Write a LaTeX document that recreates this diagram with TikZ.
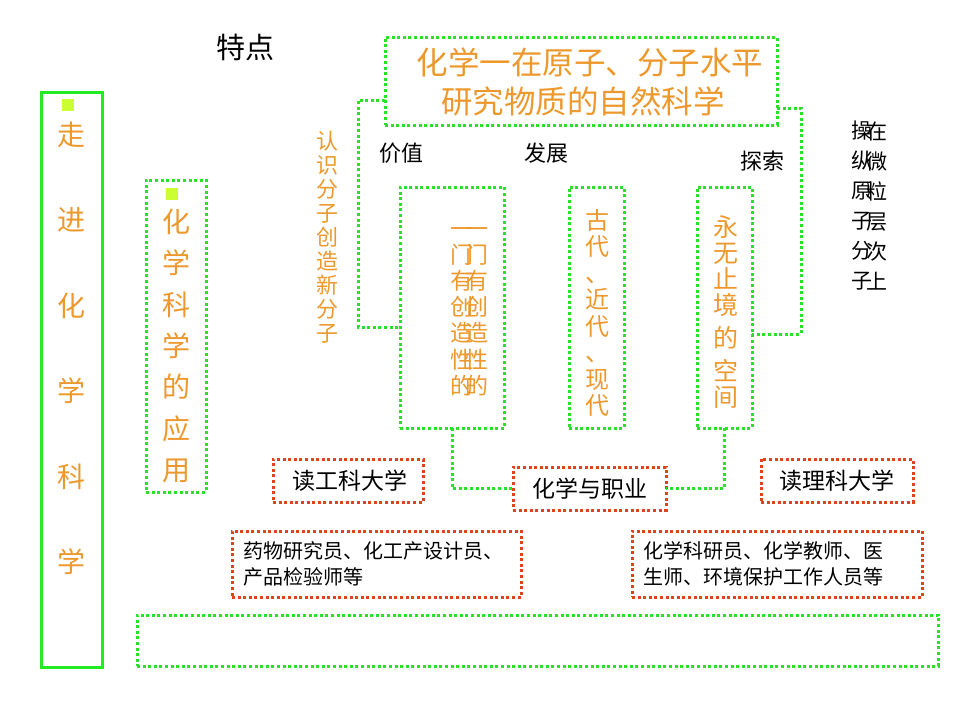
\documentclass[tikz,border=0pt]{standalone}
\usepackage{fontspec}
\newfontfamily\cjk{Noto Sans CJK SC}
\definecolor{dgreen}{RGB}{40,225,40}
\definecolor{sgreen}{RGB}{34,235,34}
\definecolor{dred}{RGB}{222,68,28}
\definecolor{otxt}{RGB}{236,152,44}
\definecolor{ysq}{RGB}{204,255,51}
\newcommand{\fs}[2]{\cjk\fontsize{#1}{#2}\selectfont}
\begin{document}
\begin{tikzpicture}[x=1pt,y=-1pt,
  gdot/.style={draw=dgreen,line width=3pt,dash pattern=on 3pt off 2.6pt,outer sep=0pt,inner sep=0pt},
  rdot/.style={draw=dred,line width=3pt,dash pattern=on 3pt off 2.6pt,outer sep=0pt,inner sep=0pt},
  gsolid/.style={draw=sgreen,line width=3pt,outer sep=0pt,inner sep=0pt},
  sqmark/.style={fill=ysq,minimum size=12pt,inner sep=0pt},
  otext/.style={text=otxt,inner sep=0pt,align=center},
  btext/.style={text=black,inner sep=0pt,align=center},
  gline/.style={draw=dgreen,line width=3pt,dash pattern=on 3pt off 2.6pt}]
\useasboundingbox (0,0) rectangle (960,720);
% left main box
\node[gsolid,minimum width=61pt,minimum height=575pt] (lb) at (71.5,379.5) {};
\node[sqmark] (sq1) at (68,105) {};
\node[otext,font=\fs{28}{85.5}] (zj) at (71,348.5) {走\\进\\化\\学\\科\\学};
% application box
\node[gdot,minimum width=60pt,minimum height=312pt] (app) at (176,336) {};
\node[sqmark] (sq2) at (172,194) {};
\node[otext,font=\fs{28}{41.3}] (appt) at (176,346) {化\\学\\科\\学\\的\\应\\用};
% title
\node[btext,font=\fs{29}{34}] (td) at (245,47) {特点};
% top box
\node[gdot,minimum width=392pt,minimum height=88pt] (top) at (581,81) {};
\node[otext,font=\fs{31.5}{36}] (t1) at (590,62) {化学一在原子、分子水平};
\node[otext,font=\fs{31.5}{36}] (t2) at (583,101) {研究物质的自然科学};
% labels
\node[btext,font=\fs{22}{26}] (jz) at (401,153) {价值};
\node[btext,font=\fs{22}{26}] (fz) at (546,153) {发展};
\node[btext,font=\fs{22}{26}] (ts) at (762,161) {探索};
\node[otext,font=\fs{22}{24}] (rs) at (327,237) {认\\识\\分\\子\\创\\造\\新\\分\\子};
\node[btext,font=\fs{21}{30}] (cz1) at (862,206) {操\\纵\\原\\子\\分\\子};
\node[btext,font=\fs{21}{30}] (cz2) at (877,206) {在\\微\\粒\\层\\次\\上};
% three vertical boxes
\node[gdot,minimum width=104pt,minimum height=241pt] (b1) at (452,307.5) {};
\node[gdot,minimum width=55pt,minimum height=241pt] (b2) at (596.5,307.5) {};
\node[gdot,minimum width=55pt,minimum height=241pt] (b3) at (724.5,307.5) {};
\node[otext,font=\fs{23}{26.2}] (b1a) at (461.5,311.5) {一\\门\\有\\创\\造\\性\\的};
\node[otext,font=\fs{23}{26.2}] (b1b) at (476.5,311.5) {一\\门\\有\\创\\造\\性\\的};
\node[otext,font=\fs{24}{26.5}] (b2t) at (597,312.75) {古\\代\\、\\近\\代\\、\\现\\代};
\node[otext,font=\fs{25}{26}] (b3t) at (726,312) {永\\无\\止\\境\\[7pt]的\\[7pt]空\\间};
% connectors to top box
\coordinate (c1) at (358,327);
\coordinate (c2) at (801,334);
\draw[gline] ([yshift=-19pt]top.west) -| (c1) -- (b1.west |- c1);
\draw[gline] ([yshift=-27pt]top.east) -| (c2) -- (b3.east |- c2);
% career boxes
\node[rdot,minimum width=153pt,minimum height=43pt] (job) at (589.5,488.5) {};
\node[btext,font=\fs{23}{26}] (jobt) at (589.5,489) {化学与职业};
\node[rdot,minimum width=150pt,minimum height=43pt] (gk) at (348,480.5) {};
\node[btext,font=\fs{23}{26}] (gkt) at (350,480.5) {读工科大学};
\node[rdot,minimum width=152pt,minimum height=43pt] (lk) at (837,480.5) {};
\node[btext,font=\fs{23}{26}] (lkt) at (837,480.5) {读理科大学};
\draw[gline] (b1.south) |- (job.west);
\draw[gline] (b3.south) |- (job.east);
\node[rdot,minimum width=289pt,minimum height=66pt] (yw) at (376.5,564) {};
\node[btext,font=\fs{20}{26},anchor=west,align=left] (ywt) at (243,564) {药物研究员、化工产设计员、\\产品检验师等};
\node[rdot,minimum width=290pt,minimum height=66pt] (hx) at (777,564) {};
\node[btext,font=\fs{20}{26},anchor=west,align=left] (hxt) at (643,564) {化学科研员、化学教师、医\\生师、环境保护工作人员等};
% bottom empty box
\node[gdot,minimum width=801pt,minimum height=51pt] (bot) at (537.5,640.5) {};
\end{tikzpicture}
\end{document}
